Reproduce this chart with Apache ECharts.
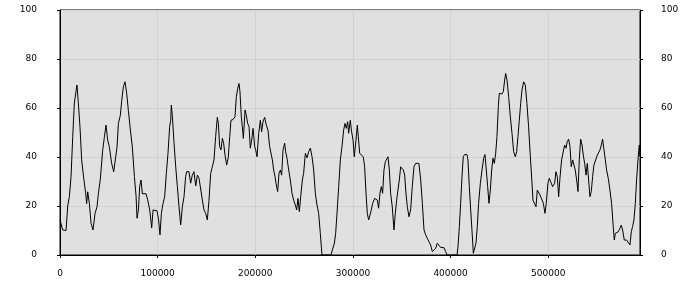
<!DOCTYPE html>
<html>
<head>
<meta charset="utf-8">
<script src="https://cdn.jsdelivr.net/npm/echarts@6/dist/echarts.min.js"></script>
<style>
html,body{margin:0;padding:0;background:#fff;}
#chart{width:700px;height:300px;}
</style>
</head>
<body>
<div id="chart"></div>
<script>
const xTickLabels = [0, 100000, 200000, 300000, 400000, 500000];
const yTickLabels = [0, 20, 40, 60, 80, 100];

const xValues = [
0,2800,6200,7900,9600,11300,13000,14700,16400,17400,18800,20500,22200,24300,26300,27300,28400,30100,31800,33800,35900,37900,39300,41300,43700,45400,47100,48800,50600,52900,55000,56400,58400,59800,61800,63200,64900,66600,68300,70000,72100,74100,76200,77900,78900,80300,81600,83000,84300,85700,88100,89800,91900,93900,95300,97300,99400,101000,
102400,103800,105500,107200,108900,110600,112300,113400,114000,115100,116800,118500,120200,121900,123600,125300,127000,128700,129700,132100,133800,135500,137200,139000,140700,142400,144100,145800,147500,149200,150900,152600,154300,156000,157700,159400,161100,162200,163500,164900,166300,167600,169000,170700,172400,173800,175100,177200,179200,180600,182000,183300,184300,185700,186700,187800,189500,190800,192200,193600,194900,196300,197700,199400,200400,
201800,203500,205200,206500,207900,209600,211300,213000,214700,216100,217500,218800,220200,221200,222900,224300,225700,227000,228400,230100,231100,232500,234200,235900,237600,239300,241000,242400,243700,245100,246500,248200,249500,251300,253000,254700,256400,258100,259800,261500,263200,264900,266600,268300,277500,278900,281000,282300,283700,285400,287100,288800,290500,291900,293200,294600,295600,297300,298400,300100,301400,
303100,304500,305500,306900,308600,310600,312000,313400,314700,316100,317500,318800,320200,322300,323600,325000,326300,327700,329100,330400,331800,333200,334500,335900,337300,338600,340300,342000,343400,344800,346100,347500,348900,350200,351600,353000,354300,355700,357400,359100,360800,362500,364200,365900,367600,369400,371100,372800,374500,376200,377900,379600,381300,383000,384700,386400,388100,389800,393200,395000,396300,
406600,407600,409000,410300,411700,413000,414400,416800,417800,419200,420600,421900,423300,424600,426000,427400,428700,430500,432200,433900,435200,436600,438000,439300,440700,442100,443400,444800,446200,447500,448900,449900,452600,454000,455400,456400,457800,459500,461200,462900,464600,466300,467700,469000,470400,471800,473100,474800,476500,478200,479900,481700,483400,484400,486100,487500,488800,490200,491600,493600,495000,496700,498000,499700,501100,
502800,504500,506600,507900,509300,510700,512000,513700,515500,516800,518200,519500,520900,522300,523600,525000,526400,527700,529100,530500,531800,533200,534600,535900,537300,538700,540000,541400,542700,544100,545500,546800,548600,550300,551600,553000,554400,555700,557100,558500,559800,561500,563200,564900,566600,567700,568700,570100,571800,573500,574800,576200,577900,580300,582300,583700,585100,586400,587800,589200,590500,591900,593300,594000
];

const yValues = [
14.3,10.2,10,20,23.8,32,48,62,66.8,69.4,62,52,38.8,31.3,25.2,21,25.8,21,12.9,10.2,17,19.7,25,31,42.7,48,53,47,44,37.4,34,34.7,44,53.7,57,63,68.7,70.7,66,59,51,44,32,24,15,18.4,28,30.6,25,24.5,25,22.5,18.4,11,18.4,18.4,18,14.3,
8.2,17,21,23.8,33.3,41.5,52.4,55,61.2,56.5,45.6,36,27.9,19.7,12.3,19.7,23.8,32,34,34,29.3,32.6,34,28.2,32.6,31.3,30.6,22.4,18.4,17,14.3,22.4,33.3,36,38.8,48.3,56.2,53.7,44.3,42.9,47.6,45.6,40.8,36.7,40,48.3,55,55.3,56.4,64.6,68,70,66.7,56.4,52.4,47.6,59.2,57.1,53.7,52.4,43.6,46.9,51.7,44.3,42.9,
40.1,49.7,55,50.3,54.4,56.2,53,51,44.3,43.6,38.8,34.7,32,29.3,25.9,33.3,34.7,32.6,42.9,45.6,42.2,39.5,34.7,30.6,25.2,22.4,20.4,18.4,23.1,17.7,23.8,30.6,33.3,41.5,39.7,42.2,43.6,40.1,34.7,25.2,20.4,17,8.8,0,0,2,4.8,8.8,17,27.9,38.8,44.3,51,53.7,51.7,54.4,49.7,55,51,46.9,40.1,
46.9,53,48.3,41.5,40.8,40.1,36,25.2,17,14.3,16.3,18.4,21.1,23.1,23.8,22.4,19.1,25.2,27.9,25.2,34.7,38.1,37.4,40.1,34.7,25.2,19.7,10.2,17,22.4,26.5,30.6,36,36.7,34.7,32.6,25.2,19.7,15.6,18.4,27.9,36,37.4,38.1,37.4,30.6,21.1,10.2,8.2,6.8,5.4,4.1,1.4,1,2.7,4.8,4.1,3.1,3,1.4,0,
0,3.4,11.6,21.1,32,40.1,41,41,38.8,27.9,18.4,10.2,0.7,1.4,4.8,11.6,21.1,29.3,34.7,39.5,41,34.7,27.9,21.1,26.5,34.7,39.5,37.4,41.5,48.3,60.5,66,65.7,66.7,71.4,74.1,71.4,64.6,56.4,49.7,42.2,40.1,42.2,48.3,55,61.9,67.3,70.7,69.4,61.9,52.4,40.1,29.3,22.4,21.8,19.7,26.5,27.2,24.5,25.2,21.1,17,21.1,29.3,31.3,
30.6,27.9,29.3,34,32,23.8,31.3,38.8,39.5,44.9,43.6,46.3,47.3,44.3,36,38.8,38.1,34.7,30.6,25.9,38.8,47.3,44.9,40.8,37.4,32.6,37.4,30.6,23.8,25.9,32,36.7,38.8,40.8,40.1,42.9,44.9,47.3,42.9,38.8,34.7,31.3,26.5,21.1,11.6,6.1,8.8,8.8,9.5,10.9,12.2,10.2,6.1,6.1,5.8,4.1,9.5,11.6,14.3,21.1,30.6,38.8,44.9,40
];

const seriesData = xValues.map((x, i) => [x, yValues[i]]);

const labelFont = { fontFamily: 'DejaVu Sans', fontSize: 9, color: '#000' };
const chart = echarts.init(document.getElementById('chart'), null, { renderer: 'canvas' });

function yAxisCfg(pos, margin, showSplit) {
  return {
    type: 'value', position: pos, min: yTickLabels[0], max: yTickLabels[yTickLabels.length - 1], interval: 20,
    axisLine: { show: true, lineStyle: { color: '#000', width: 1 } },
    axisTick: { show: true, length: 3, inside: false, lineStyle: { color: '#000' } },
    axisLabel: Object.assign({ margin: margin }, labelFont),
    splitLine: { show: showSplit, lineStyle: { color: '#d2d2d2', width: 1 } }
  };
}

chart.setOption({
  animation: false,
  backgroundColor: '#fff',
  grid: { left: 60, right: 60, top: 10, bottom: 45, show: true, backgroundColor: '#e0e0e0', borderColor: '#000', borderWidth: 1 },
  xAxis: {
    type: 'value', min: xTickLabels[0], max: 594000, interval: 100000,
    axisLine: { show: true, onZero: false, lineStyle: { color: '#000', width: 1 } },
    axisTick: { show: true, length: 3, lineStyle: { color: '#000' } },
    axisLabel: Object.assign({
      margin: 14, showMaxLabel: false,
      formatter: function (v) { return xTickLabels.indexOf(v) >= 0 ? String(v) : ''; }
    }, labelFont),
    splitLine: { show: true, lineStyle: { color: '#d2d2d2', width: 1 } }
  },
  yAxis: [yAxisCfg('left', 23, true), yAxisCfg('right', 21, false)],
  series: [{
    type: 'line', yAxisIndex: 0, data: seriesData, showSymbol: false, symbol: 'none',
    lineStyle: { color: '#000', width: 1 }, clip: true
  }]
});
</script>
</body>
</html>
